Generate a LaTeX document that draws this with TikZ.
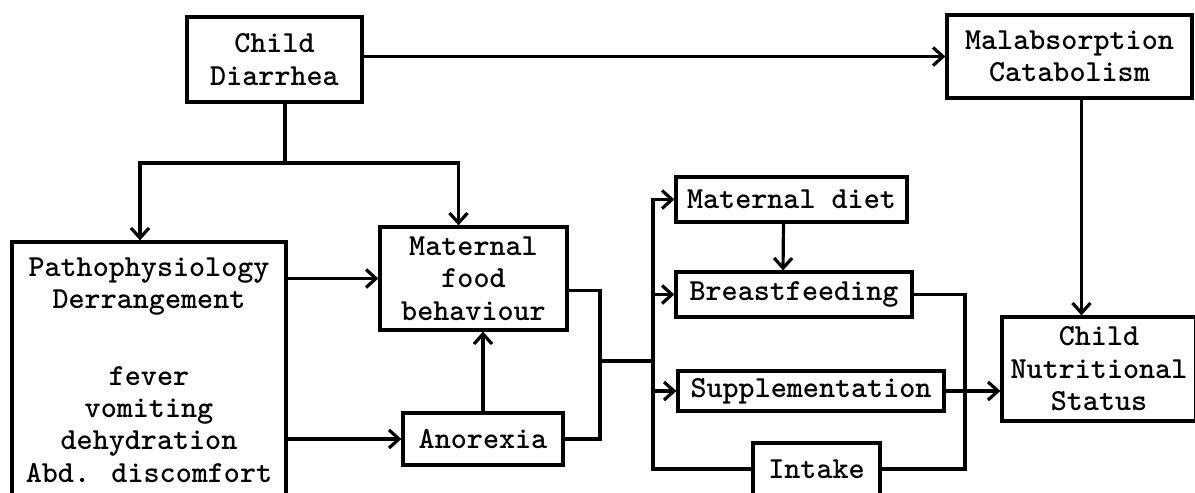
\documentclass[tikz,border=0pt]{standalone}
\usepackage{fontspec}
\usepackage{tikz}
\usetikzlibrary{calc}
\usetikzlibrary{arrows.meta}
\tikzset{every picture/.style={line width=1.6pt}}
\tikzset{
  box/.style={draw, line width=1.6pt, inner sep=2pt, align=center, font=\ttfamily\bfseries\fontsize{15.3}{16.2}\selectfont},
  link/.style={line width=1.6pt},
  arr/.style={link, -{Straight Barb[length=5pt,width=9pt]}}
}

\begin{document}
\begin{tikzpicture}[x=0.5pt,y=0.5pt,yscale=-1,xscale=1]
\useasboundingbox (0,0) rectangle (1195,493);
\clip (0,0) rectangle (1195,493);

%Shape: Rect [Child Diarrhea]
\node [box, minimum width=87.5pt, minimum height=42.5pt] (diarrhea) at (274.5,59.5) {Child\\Diarrhea};
%Shape: Rect [Malabsorption]
\node [box, minimum width=122.5pt, minimum height=41.5pt] (malab) at (1069.5,56.5) {Malabsorption\\Catabolism};
%Shape: Rect [Pathophysiology]
\node [box, minimum width=137pt, minimum height=128pt] (patho) at (149,370) {Pathophysiology\\Derrangement\\[22pt]fever\\vomiting\\dehydration\\Abd. discomfort};
%Shape: Rect [Maternal food]
\node [box, minimum width=93.5pt, minimum height=51.5pt] (mfood) at (473.5,278.5) {Maternal\\food\\behaviour};
%Shape: Rect [Anorexia]
\node [box, minimum width=80pt, minimum height=26pt] (anorexia) at (483,439) {Anorexia};
%Shape: Rect [Maternal diet]
\node [box, minimum width=115.5pt, minimum height=22.5pt] (mdiet) at (791.5,199.5) {Maternal diet};
%Shape: Rect [Breastfeeding]
\node [box, minimum width=118pt, minimum height=22.5pt] (bfeed) at (794,294.5) {Breastfeeding};
%Shape: Rect [Supplementation]
\node [box, minimum width=133pt, minimum height=20pt] (suppl) at (811,391) {Supplementation};
%Shape: Rect [Intake]
\node [box, minimum width=63.5pt, minimum height=26pt] (intake) at (816.5,469) {Intake};
%Shape: Rect [Nutritional Status]
\node [box, minimum width=97pt, minimum height=52pt] (nutri) at (1099,369) {Child\\Nutritional\\Status};

% bends
\coordinate (split) at (285,163);
\coordinate (join) at (600,361);
\coordinate (bus) at (653,361);
\coordinate (merge) at (965,391);

%Straight Lines
\draw [arr] (diarrhea.east |- malab.west) -- (malab.west);
\draw [link] (split |- diarrhea.south) -- (split);
\draw [arr] (split) -| ($(patho.north)+(-9,0)$);
\draw [arr] (split) -| ($(mfood.north)+(-15,0)$);
%Straight Lines
\draw [arr] (patho.east |- mfood.west) -- (mfood.west);
\draw [arr] (patho.east |- anorexia.west) -- (anorexia.west);
\draw [arr] (anorexia.north) -- (anorexia.north |- mfood.south);
\draw [link] ($(mfood.east)+(0,12)$) -| (join) |- (anorexia.east);
\draw [link] (join) -- (bus);
%Straight Lines
\draw [arr] (bus) |- (mdiet.west);
\draw [arr] (bus) |- (bfeed.west);
\draw [arr] (bus) |- (suppl.west);
\draw [link] (bus) |- (intake.west);
\draw [arr] ($(mdiet.south)+(-8,0)$) -- ($(bfeed.north)+(-11,0)$);
%Straight Lines
\draw [link] (bfeed.east) -| (merge) |- (intake.east);
\draw [arr] (suppl.east) -- (suppl.east -| nutri.west);
\path ($(malab.south)+(12,0)$) coordinate (drop);
\draw [arr] (drop) -- (drop |- nutri.north);

\end{tikzpicture}
\end{document}
